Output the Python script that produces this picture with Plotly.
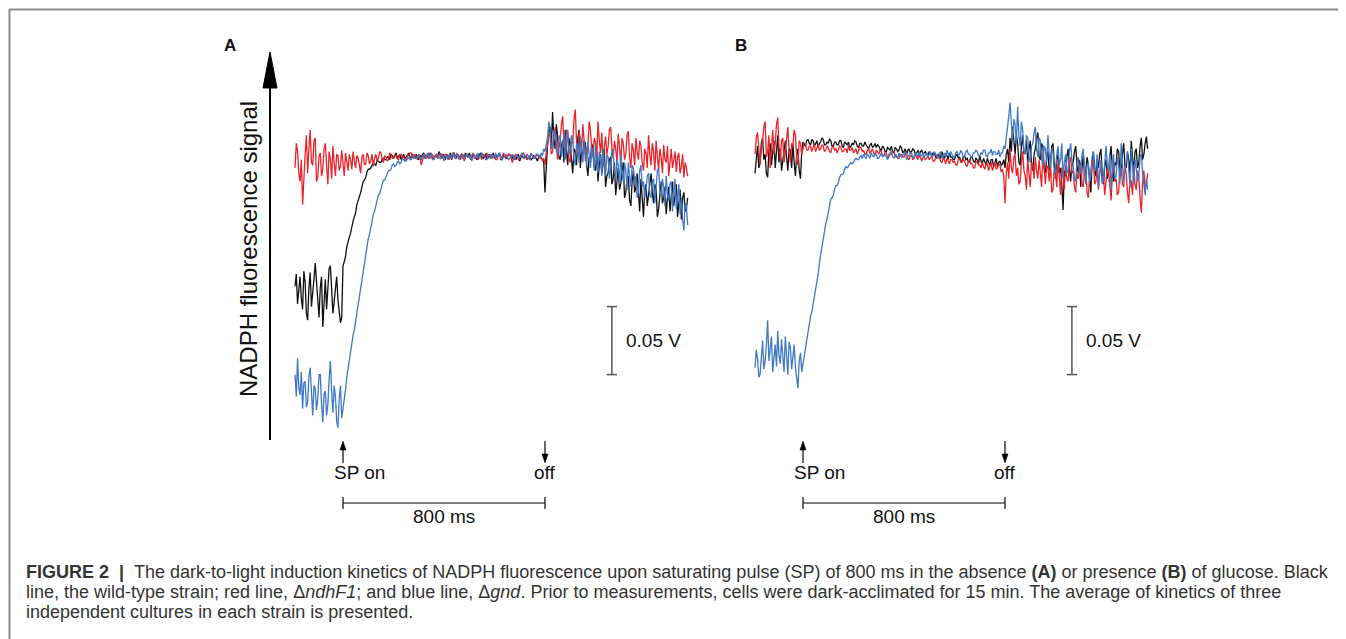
"""
NADPH fluorescence induction kinetics (Figure 2 A/B) rebuilt with plotly
"""

import plotly.graph_objects as go

# ---- data (mV relative to plateau, sampled every 5 ms from -190 ms) ----
time_ms = list(range(-190, 1370, 5))

a_black = [
    -95, -86, -108, -100, -88, -104, -112, -84, -92, -115, -120, -96, -85, -110, -102, -90, -78, -94, -110,
    -118, -96, -88, -125, -104, -90, -112, -100, -82, -80, -98, -115, -106, -94, -88, -105, -112, -122, -118,
    -80, -77, -73, -66, -61, -59, -56, -50, -47, -44, -41, -35, -31, -29, -26, -21, -18, -17, -15, -11,
    -9, -9, -8, -6, -5, -5, -6, -3, -3, -4, -4, -2, -1, -2, -2, 0,
    0, -2, 2, 1, -1, 1, 3, -1, 1, 2, -2, 0, 2, -1, 0, 1, 3, 0, -1, 2, 1, -1, 2, 0, -2, 1, 0, 2, 3, -1,
    1, 0, -1, 3, 2, -2, 0, 1, 1, -1,
    4, 1, -1, 2, 1, -2, 2, 0, 0, 3, -2, 1, 3, -1, 1, 2, 0, -1, 2, 1, -1, 3, 1, 0, 3, -2, 0, 2, 1, -1,
    -2, 0, 2, 3, 0, -1, 1, 2, -1, 0,
    2, -1, 1, 3, -1, 0, 0, 2, 3, -2, -2, 1, 1, -1, 0, 2, 2, 0, -1, 1, 0, -2, 1, 2, -3, 0, 1, -1, 0, 1,
    -2, 0, 1, -2, -1, 1, 0, -1, -3, 0, 1, -1, -2, -4,
    -26, -4, 10, 18, 22, 8, 33, 14, 6, 24, 15, 0, -2, 8, 12, -4, 20, 4, -6, 14, 8, -2, -12, 6, 4, -6,
    14, 20, -8, 4, 2, 12, 10, -6, -14, 0, -4, 10, 6, -8,
    -10, 4, -18, -6, 2, -12, -6, 6, -22, -14, -12, -2, 0, -20, -16, -4, -28, -18, -8, -24, -20, -10,
    -4, -30, -26, -16, -14, -32, -36, -18, -10, -26, -22, -12, -30, -40, -16, -28, -44, -24,
    -20, -36, -28, -16, -12, -26, -34, -20, -24, -44, -38, -28, -18, -34, -30, -22, -42, -30, -22, -40,
    -28, -18, -36, -26, -20, -44, -32, -24, -46, -30, -26, -40, -38, -30,
]
a_red = [
    -8, 10, 4, -12, -18, -2, -35, -10, 2, 16, -12, 6, 20, -4, -6, 12, 14, -18, -15, 0, 3, -14, -9, 6,
    10, -6, -20, 4, -2, -16, 8, -4, -14, 2, 1, -10, -7, 5,
    -6, -14, 3, -4, -10, 2, -2, -9, 4, -3, -8, 1, -1, -6, -12, 0, 2, -6, -5, 3, 1, -5, -3, 2, -7, -1,
    2, -3, -1, 4, 3, -2, -4, 1, 0, -3, -2, 3, 2, -1, -1, 1,
    1, -1, -2, 2, 2, 0, 0, -2, -3, 1, 1, 3, 3, 0, -1, 2, 0, -2, 2, 0, -6, -1, 1, 2, -1, 0, 3, -1, 0, 2,
    -2, 1, 2, -1, 1, 3, -1, 0, 0, 2,
    2, -1, -2, 1, 1, 3, 3, 0, -1, 2, 0, -2, 1, 2, -3, 0, 2, 1, 0, -1, 1, 3, -1, 0, 2, -2, 0, 1, -2, 2,
    1, 0, 3, -1, 0, 2, -1, 1, 1, -2,
    -2, 1, 2, 0, 0, 3, 1, -1, -1, 2, 2, 0, -4, -1, 1, 2, 0, -2, -1, 1, 2, 3, 1, -1, -2, 0, 0, 2, 1, -1,
    -1, 1, 2, 0, 0, -1, -3, -1,
    -6, 4, 8, 18, 15, 2, 4, 14, 22, 10, -2, 6, 12, 24, 30, 8, 6, 20, 18, -2, -4, 12, 10, 28, 35, 10,
    2, 18, 14, 4, 24, 12, -3, 6, 9, 26, 20, 4, 0, 14,
    11, 0, 26, 12, 3, 18, -6, 8, 15, 2, 8, 20, 22, 6, -1, 12, 6, -4, 17, 8, -5, 14, 10, -2, 2, 16,
    19, 0, -8, 10, 5, -6, 14, 4, -2, 12, 8, -4, -10, 6,
    3, -8, 16, 2, -6, 10, 4, -10, 12, 0, -9, 6, 0, -12, 9, -2, -4, 8, -14, -4, 6, -8, -2, 4, -11, 0,
    3, -12, -7, 2, -15, -4, -8, -14,
]
a_blue = [
    -160, -176, -148, -170, -175, -158, -185, -166, -165, -184, -180, -162, -155, -178, -190, -168,
    -170, -186, -178, -160, -160, -182, -195, -174, -172, -190, -182, -164, -150, -172, -188, -168,
    -176, -194, -199, -178, -168, -192,
    -186, -178, -171, -162, -155, -151, -145, -137, -131, -127, -121, -113, -107, -102, -96, -88,
    -82, -78, -73, -66, -60, -57, -52, -46, -42, -40, -36, -31, -28, -27, -24, -20, -17, -17, -15,
    -12, -10, -10, -9, -6, -5, -7, -6, -4, -3, -5, -4, -1, -2, -3, -3, -1, 0, -2, -2, 1, 1, -1, -1, 0,
    1, -1, -2, 1, 2, 0, 0, 3, -1, 1, 3, -2, -2, 0, 1, 2, 0, -1, 2, 1, -3, 0, 1, -2, 2, 1, -1, 3, 0, -1,
    3, 0, -2, 2, 1, -1, -1, 1, 2, 0,
    0, 2, -3, 0, 2, -1, 1, 3, -1, 0, 3, 1, 0, -2, -2, 2, 1, -1, 2, 0, -1, 3, 0, 1, 3, -1, -2, 0, 1, 2,
    0, -2, -1, 1, 2, 0, -2, 1, 1, -1,
    0, 2, 3, -1, -1, 1, 2, 0, -2, 3, 1, -1, 0, 2, 2, 1, -1, 3, 1, 6,
    4, 10, 14, 26, 22, 6, 8, 20, 18, 4, 2, 14, 16, 0, 10, 18, -2, 8, 20, 2, 6, 16, 12, -2, -6, 10,
    9, -4, 15, 6, -4, 12, 5, -6, 11, 2, -8, 8, 2, -10,
    8, -4, -12, 4, -2, -14, 6, -6, -14, 2, 0, -16, -8, 6, 4, -10, -16, -2, -6, -20, 2, -12, -18, -4,
    -10, -24, -4, -14, -22, -6, -8, -20, -14, -30, -26, -10, -6, -22, -18, -30,
    -24, -14, -12, -28, -30, -18, -16, -34, -20, -10, -8, -26, -28, -16, -22, -36, -14, -28, -32, -20,
    -18, -40, -26, -16, -38, -28, -20, -42, -30, -46, -54, -34, -36, -50,
]

b_black = [
    -12, 2, 8, -8, -4, 10, 14, -2, 2, -12, -15, 4, 10, -6, 4, 12, -8, 2, 16, -4, 6, -10, -2, 8, 12, 0,
    -10, 6, 5, -8, 9, -4, -14, 2, 6, -10, -16, 4,
    11, 9, 8, 12, 13, 10, 9, 13, 12, 8, 10, 12, 7, 10, 11, 14, 13, 9, 9, 11, 10, 13, 12, 8, 8, 11,
    11, 9, 9, 12, 12, 8, 7, 11, 10, 9, 11, 7, 8, 10, 9, 12, 11, 8, 7, 10, 10, 8, 8, 11, 9, 7, 6, 9,
    10, 7, 8, 10, 7, 9,
    8, 6, 5, 8, 7, 4, 4, 7, 6, 5, 8, 4, 3, 7, 6, 4, 5, 8, 7, 3, 4, 6, 2, 5, 6, 3, 4, 6, 5, 2, 3, 5,
    1, 4, 5, 2, 3, 4, 2, 1,
    4, 2, 1, 3, 3, 0, 0, 2, 2, -1, 4, 1, -1, 2, 1, -2, 3, 0, 0, -2, -2, 1, 2, -1, 0, -3, -3, 0, 1, -2,
    -1, -4, -3, 0, 0, -3, -4, -1, -2, -5,
    1, -3, -5, -1, -3, -6, -1, -4, -6, -2, -2, -7, -4, -1, -7, -4, -3, -6, -5, -2,
    -8, 2, 6, -4, 14, 4, 22, 8, 2, 16, 10, -4, -6, 8, 16, 2, 4, 12, -4, 6, 12, -6, -10, 2, 6, 14,
    18, 0, -2, 10, 8, -8, -12, 0, 4, -10, -6, 8, 10, -4,
    -16, -2, 2, -12, -8, -20, -39, -10, -14, 0, 6, -8, -18, -6, -4, 4, 8, -6, -12, -2, -22, -8, 2, -14,
    -10, 0, -6, -16, -26, -4, 4, -10, -14, -2, -8, 2, 6, -12, -20, -6,
    -2, -16, -12, 0, 8, -8, -18, -4, -6, 6, 4, -10, -14, 2, 10, -6, -8, 4, -2, -12, 12, 0, -10, 4,
    6, -8, -4, 8, 14, -2, 2, 10, 15, 6,
]
b_red = [
    2, 14, 18, 4, -6, 8, 12, 22, 26, 0, 4, 16, -8, 6, 20, 2, 10, 24, 29, 8, -2, 12, 14, -4, 6, 18,
    22, 4, -4, 10, 8, 20, 16, -2, -6, 12, 10, 2,
    6, 10, 9, 5, 5, 8, 8, 4, 7, 9, 4, 7, 9, 5, 6, 9, 8, 4, 5, 8, 7, 4, 3, 7, 8, 5, 6, 3, 5, 8, 7, 4,
    4, 6, 6, 3, 8, 5, 5, 7, 3, 5, 6, 2, 4, 7, 7, 4, 5, 2, 2, 5, 6, 3, 4, 6, 3, 1, 5, 3,
    2, 5, 4, 1, 1, 3, 3, -1, 0, 2, 2, 4, 4, 0, 1, -1, -1, 2, 2, 0, 0, 3, 3, -1, -2, 1, 1, -2, -1, 2,
    0, -2, 2, -1, -3, 0, 0, -2, -1, 1,
    -2, 0, 1, -3, -3, -1, -1, 1, 0, -3, -4, -1, -2, -5, -1, -3, -5, -2, -2, -4, -3, -6, -6, -2, -1, -4,
    -4, -2, -3, -6, -7, -3, -2, -5, -5, -8, -8, -4, -3, -6,
    -6, -8, -4, -7, -9, -5, -5, -10, -7, -4, -10, -6, -4, -9, -8, -5, -6, -11, -9, -14,
    -34, -12, -4, -16, 6, -8, -12, 0, 2, -14, -8, -20, -18, -4, 4, -10, -14, -24, -2, -12, -22, -4,
    -6, -16, 0, -10, -16, -2, -10, -22, 3, -8, -20, -6, -8, -18, -4, -26, -24, -10,
    -12, -22, -2, -14, -28, -8, -14, -24, -6, -16, -18, -4, 0, -12, -10, -22, -26, -12, -16, -6, -4, -20,
    -22, -10, -8, -26, -30, -14, -12, -2, -2, -20, -18, -8, -24, -12, -6, -18, -14, -28,
    -20, -8, -10, -24, -32, -14, -4, -18, -16, -28, -26, -10, -8, -20, -22, -6, -12, -26, -34, -16,
    -18, -28, -6, -20, -24, -10, -14, -30, -41, -18, -10, -24, -20, -12,
]
b_blue = [
    -155, -142, -148, -162, -160, -146, -135, -156, -150, -138, -120, -150, -142, -132, -158, -144,
    -138, -154, -128, -146, -152, -134, -145, -158, -132, -148, -160, -136, -140, -156, -148, -138,
    -155, -162, -170, -150, -144, -158,
    -152, -146, -139, -135, -129, -122, -117, -114, -109, -102, -96, -92, -86, -78, -72, -67, -61, -54,
    -49, -46, -41, -35, -31, -30, -28, -24, -21, -21, -19, -15, -13, -13, -12, -9, -7, -8, -7, -5,
    -4, -5, -4, -2, -1, -2, -2, 0, 1, -1,
    2, 0, -1, 2, 1, -1, 3, 1, 0, 3, 2, -1, -1, 1, 3, 0, 1, 2, 0, -2, 2, 3, 4, 0, -1, 2, 1, -1, 3, 1,
    0, 2, 2, 4, -2, 0, 1, 3, 3, -1,
    0, 3, 2, 0, 4, 1, 1, 3, -1, 2, 3, 0, 2, 4, 0, 1, 4, 2, 1, -1, 2, 4, -1, 1, 3, 0, 5, 2, 1, 4,
    2, 0, 0, 3, 4, 1, 2, 5, 3, 0,
    1, 4, 5, 2, 2, 0, 0, 3, 3, 5, 4, 1, 1, 3, 2, 5, 5, 1, 0, 3, 3, 6, 1, 4, 4, 2, 2, 5, 0, 3, 3, 8,
    6, 14, 18, 30, 40, 22, 12, 28, 24, 10, 37, 16, 8, 26, 20, 4, 2, 16, 14, 0, -4, 8, 10, 18, 22, 6,
    0, 14, 12, -2, -6, 8, 6, -4, 16, 2, -8, 6, 4, -10,
    -12, 2, 8, -6, -2, 10, -16, -4, 2, -12, -10, 4, 10, -2, -6, -16, -18, -4, 0, -10, -12, 2, 6, -8,
    -20, -6, -4, -18, -14, 0, 4, -10, -8, 2, -22, -12, -2, -20, -16, -4,
    8, -6, -10, 2, -24, -8, 2, -16, -14, 0, -6, -20, 10, -4, -18, -8, -4, 4, -12, -22, 6, -10, -20, -2,
    -8, -18, -14, 0, 2, -12, -22, -28, -16, -24,
]

sp_on_ms, sp_off_ms = 0, 800
scale_bar_mv = 50

caption_lines = [
    "<b>FIGURE 2  |  </b>The dark-to-light induction kinetics of NADPH fluorescence upon saturating pulse (SP) "
    "of 800 ms in the absence <b>(A)</b> or presence <b>(B)</b> of glucose. Black",
    "line, the wild-type strain; red line, Δ<i>ndhF1</i>; and blue line, Δ<i>gnd</i>. Prior to measurements, "
    "cells were dark-acclimated for 15 min. The average of kinetics of three",
    "independent cultures in each strain is presented.",
]

for trace in (a_black, a_red, a_blue, b_black, b_red, b_blue):
    assert len(trace) == len(time_ms), len(trace)

# ---- page geometry (page pixels; the html body adds an 8 px margin) ----
PAGE_OFF = 8
W, H = 1346 - PAGE_OFF, 639 - PAGE_OFF
MS_PER_PX = 800 / 202
MV_PER_PX = 1 / 1.36
FONT = "Liberation Sans, Arial, Helvetica, sans-serif"
RED, BLUE, BLACK = "#e8232a", "#3f78c6", "#111111"


def fx(p):
    return (p - PAGE_OFF) / W


def fy(p):
    return 1 - (p - PAGE_OFF) / H


x_range = [(280 - 343) * MS_PER_PX, (700 - 343) * MS_PER_PX]
y_range = [(157 - 540) * MV_PER_PX, (157 - 30) * MV_PER_PX]

fig = go.Figure()

panels = [("x", "y", a_black, a_red, a_blue), ("x2", "y2", b_black, b_red, b_blue)]
for xa, ya, blk, red, blu in panels:
    for vals, col in [(blk, BLACK), (red, RED), (blu, BLUE)]:
        fig.add_trace(go.Scatter(
            x=time_ms, y=vals, mode="lines",
            line=dict(color=col, width=1.3),
            xaxis=xa, yaxis=ya, showlegend=False, hoverinfo="skip"
        ))

shapes = []
annotations = []


def label(text, x, y, size, xref="paper", yref="paper", xanchor="center", **kw):
    annotations.append(dict(xref=xref, yref=yref, x=x, y=y, text=text, xanchor=xanchor, yanchor="middle",
                            showarrow=False, font=dict(size=size, color="#111"), **kw))


# outer frame (top and left rules)
shapes.append(dict(type="line", xref="paper", yref="paper", x0=fx(9), x1=1, y0=fy(9.5), y1=fy(9.5),
                   line=dict(color="#8a8a8a", width=2)))
shapes.append(dict(type="line", xref="paper", yref="paper", x0=fx(9.5), x1=fx(9.5), y0=fy(9), y1=0,
                   line=dict(color="#8a8a8a", width=2)))

# y-axis arrow of panel A
shapes.append(dict(type="line", xref="paper", yref="paper", x0=fx(270), x1=fx(270), y0=fy(440), y1=fy(86),
                   line=dict(color="black", width=2)))
shapes.append(dict(type="path", xref="paper", yref="paper",
                   path=f"M {fx(263)},{fy(88)} L {fx(277)},{fy(88)} L {fx(270)},{fy(52)} Z",
                   fillcolor="black", line=dict(color="black", width=1)))
label("NADPH fluorescence signal", fx(248), fy(249), 24, textangle=-90)

head = 12  # ms, half width of small arrow heads
for xa, ya, letter, letter_px in [("x", "y", "A", 230), ("x2", "y2", "B", 741)]:
    label(f"<b>{letter}</b>", fx(letter_px), fy(45), 17)
    # SP on arrow
    shapes.append(dict(type="line", xref=xa, yref="paper", x0=sp_on_ms, x1=sp_on_ms, y0=fy(463), y1=fy(447),
                       line=dict(color="black", width=1.2)))
    shapes.append(dict(type="path", xref=xa, yref="paper",
                       path=f"M {sp_on_ms - head},{fy(450)} L {sp_on_ms + head},{fy(450)} L {sp_on_ms},{fy(441)} Z",
                       fillcolor="black", line=dict(color="black", width=0.5)))
    # off arrow
    shapes.append(dict(type="line", xref=xa, yref="paper", x0=sp_off_ms, x1=sp_off_ms, y0=fy(441), y1=fy(455),
                       line=dict(color="black", width=1.2)))
    shapes.append(dict(type="path", xref=xa, yref="paper",
                       path=f"M {sp_off_ms - head},{fy(454)} L {sp_off_ms + head},{fy(454)} L {sp_off_ms},{fy(463)} Z",
                       fillcolor="black", line=dict(color="black", width=0.5)))
    label("SP on", sp_on_ms - 42, fy(472), 19, xref=xa, xanchor="left")
    label("off", sp_off_ms, fy(472), 19, xref=xa)
    # 800 ms bar
    shapes.append(dict(type="line", xref=xa, yref="paper", x0=sp_on_ms, x1=sp_off_ms, y0=fy(503), y1=fy(503),
                       line=dict(color="black", width=1.2)))
    for t in (sp_on_ms, sp_off_ms):
        shapes.append(dict(type="line", xref=xa, yref="paper", x0=t, x1=t, y0=fy(497), y1=fy(509),
                           line=dict(color="black", width=1.2)))
    label("800 ms", (sp_on_ms + sp_off_ms) / 2, fy(516), 19, xref=xa)
    # 0.05 V scale bar
    bx, y_top = 1065, -110
    shapes.append(dict(type="line", xref=xa, yref=ya, x0=bx, x1=bx, y0=y_top, y1=y_top - scale_bar_mv,
                       line=dict(color="#555", width=1.5)))
    for yy in (y_top, y_top - scale_bar_mv):
        shapes.append(dict(type="line", xref=xa, yref=ya, x0=bx - 20, x1=bx + 20, y0=yy, y1=yy,
                           line=dict(color="#555", width=1.5)))
    label("0.05 V", bx + 46, y_top - scale_bar_mv / 2, 19, xref=xa, yref=ya, xanchor="left")

# caption
for i, line in enumerate(caption_lines):
    annotations.append(dict(xref="paper", yref="paper", x=fx(24), y=fy(572 + 20 * i), text=line,
                            xanchor="left", yanchor="middle", align="left", showarrow=False,
                            font=dict(size=18, color="#333")))

axis_off = dict(visible=False, showgrid=False, zeroline=False, fixedrange=True)
fig.update_layout(
    width=W, height=H, autosize=False,
    margin=dict(l=0, r=0, t=0, b=0),
    paper_bgcolor="white", plot_bgcolor="white",
    font=dict(family=FONT, color="#111"),
    xaxis=dict(domain=[fx(280), fx(700)], range=x_range, **axis_off),
    xaxis2=dict(domain=[fx(740), fx(1160)], range=x_range, **axis_off),
    yaxis=dict(domain=[fy(540), fy(30)], range=y_range, anchor="x", **axis_off),
    yaxis2=dict(domain=[fy(540), fy(30)], range=y_range, anchor="x2", **axis_off),
    shapes=shapes,
    annotations=annotations,
)

fig.write_html("out.html")
